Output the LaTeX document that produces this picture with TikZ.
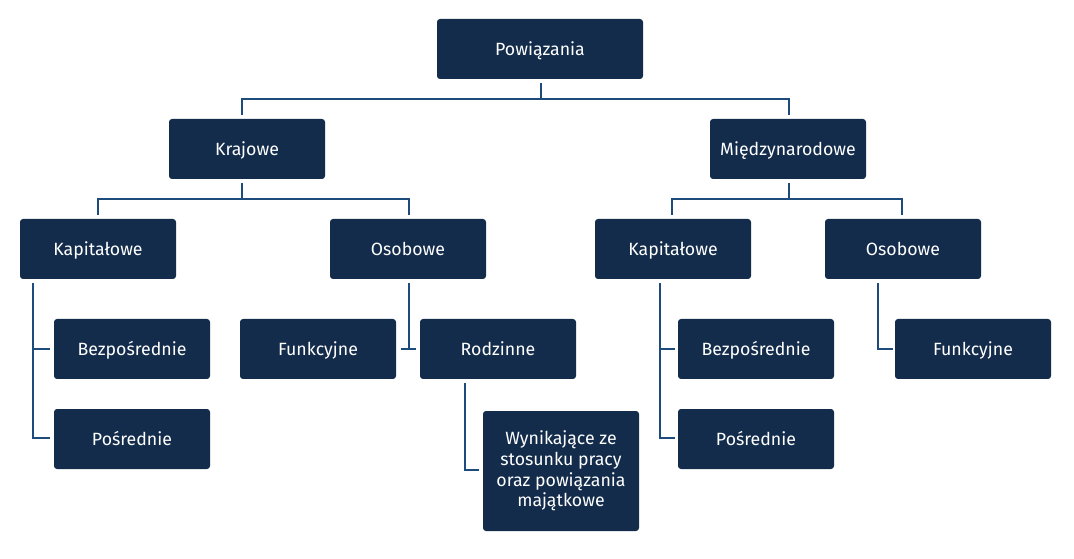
\documentclass[tikz,border=0pt]{standalone}
\usepackage{fontspec}
\setmainfont{Fira Sans}
\usetikzlibrary{calc}
\definecolor{boxc}{HTML}{132C4B}
\definecolor{linec}{HTML}{1D4C7C}
\tikzset{
  box/.style={draw=none, fill=boxc, rounded corners=2.25pt, text=white,
    minimum width=117pt, minimum height=45pt, inner sep=0pt, align=center,
    font=\fontsize{13.3}{15.5}\selectfont},
  one/.style={text height=12pt, text depth=2pt},
  conn/.style={draw=linec, line width=1.6pt}
}
\begin{document}
\begin{tikzpicture}[x=0.75pt,y=-0.75pt]
\useasboundingbox (0,0) rectangle (1074,559);
\node[box, one, minimum width=154.5pt] (pow) at (540,49) {Powiązania};
\node[box, one] (kraj) at (247,149) {Krajowe};
\node[box, one] (mied) at (788,149) {Międzynarodowe};
\node[box, one] (kapL) at (98,249) {Kapitałowe};
\node[box, one] (osoL) at (408,249) {Osobowe};
\node[box, one] (kapR) at (673,249) {Kapitałowe};
\node[box, one] (osoR) at (903,249) {Osobowe};
\node[box, one] (bezL) at (132,349) {Bezpośrednie};
\node[box, one] (posL) at (132,439) {Pośrednie};
\node[box, one] (funL) at (318,349) {Funkcyjne};
\node[box, one] (rodz) at (498,349) {Rodzinne};
\node[box, minimum height=90pt] (wyn) at (561,471) {Wynikające ze\\stosunku pracy\\oraz powiązania\\majątkowe};
\node[box, one] (bezR) at (756,349) {Bezpośrednie};
\node[box, one] (posR) at (756,439) {Pośrednie};
\node[box, one] (funR) at (973,349) {Funkcyjne};
% level 1
\draw[conn] ($(pow.south)+(1,4)$) -- ++(0,16) coordinate (j1);
\draw[conn] ($(kraj.north)+(-5,-4)$) |- (j1) -| ($(mied.north)+(1,-4)$);
% Krajowe children
\draw[conn] ($(kraj.south)+(-5,4)$) -- ++(0,16) coordinate (j2);
\draw[conn] ($(kapL.north)+(0,-4)$) |- (j2) -| ($(osoL.north)+(1,-4)$);
% Miedzynarodowe children
\draw[conn] ($(mied.south)+(1,4)$) -- ++(0,16) coordinate (j3);
\draw[conn] ($(kapR.north)+(-1,-4)$) |- (j3) -| ($(osoR.north)+(-1,-4)$);
% Kapitalowe L
\draw[conn] ($(kapL.south west)+(13,4)$) |- ($(posL.west)+(-4,-1)$);
\draw[conn] ($(bezL.west)+(-4,0)$) -- ++(-17,0);
% Osobowe L
\draw[conn] ($(osoL.south)+(1,4)$) -- ++(0,66);
\draw[conn] ($(funL.east)+(5,0)$) -- ($(rodz.west)+(-4,0)$);
% Rodzinne
\draw[conn] ($(rodz.south west)+(45,4)$) |- ($(wyn.west)+(-4,-1)$);
% Kapitalowe R
\draw[conn] ($(kapR.south west)+(65,4)$) |- ($(posR.west)+(-3,-1)$);
\draw[conn] ($(bezR.west)+(-3,0)$) -- ++(-15,0);
% Osobowe R
\draw[conn] ($(osoR.south west)+(53,4)$) |- ($(funR.west)+(-2,0)$);
\end{tikzpicture}
\end{document}
